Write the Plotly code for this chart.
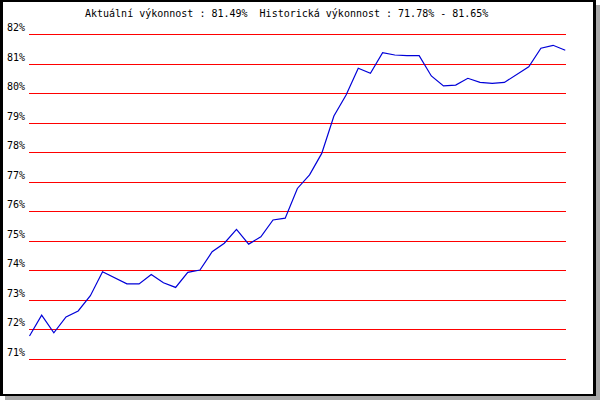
import plotly.graph_objects as go

# Data
values = [71.78, 72.49, 71.89, 72.43, 72.63, 73.15, 73.96, 73.76, 73.55, 73.55,
          73.87, 73.59, 73.43, 73.94, 74.02, 74.64, 74.93, 75.40, 74.90, 75.15,
          75.72, 75.78, 76.79, 77.25, 77.98, 79.25, 79.96, 80.87, 80.70, 81.40,
          81.32, 81.30, 81.30, 80.61, 80.27, 80.30, 80.53, 80.39, 80.36, 80.39,
          80.67, 80.92, 81.55, 81.65, 81.48]
x_index = list(range(len(values)))
tick_values = [71, 72, 73, 74, 75, 76, 77, 78, 79, 80, 81, 82]
tick_labels = [f"{v}%" for v in tick_values]
title_text = "Aktuální výkonnost : 81.49%  Historická výkonnost : 71.78% - 81.65%"

W, H = 600, 400
ML, MR, MT, MB = 29, 34, 20, 20
PW = W - ML - MR
PH = H - MT - MB


def px_x(px):
    return (px - ML) / PW


def px_y(py):
    return (H - MB - py) / PH


fig = go.Figure()
fig.add_trace(go.Scatter(x=x_index, y=values, mode="lines",
                         line=dict(color="#0000d8", width=1.2),
                         hoverinfo="skip", showlegend=False))

shapes = [
    dict(type="rect", xref="paper", yref="paper", layer="below",
         x0=px_x(5), x1=px_x(600), y0=px_y(400), y1=px_y(5),
         fillcolor="#a8a8a8", line=dict(width=0)),
    dict(type="rect", xref="paper", yref="paper", layer="below",
         x0=px_x(0), x1=px_x(596), y0=px_y(396), y1=px_y(0),
         fillcolor="#000000", line=dict(width=0)),
    dict(type="rect", xref="paper", yref="paper", layer="below",
         x0=px_x(3), x1=px_x(593), y0=px_y(394), y1=px_y(2),
         fillcolor="#ffffff", line=dict(width=0)),
]

annotations = []
for v, lab in zip(tick_values, tick_labels):
    annotations.append(dict(x=px_x(26.5), xref="paper", y=v, yref="y",
                            text=lab, showarrow=False, xanchor="right",
                            yanchor="middle", yshift=7,
                            font=dict(family="DejaVu Sans Mono", size=10,
                                      color="black")))
annotations.append(dict(x=px_x(83), xref="paper", y=px_y(13.5), yref="paper",
                        text=title_text, showarrow=False, xanchor="left",
                        yanchor="middle",
                        font=dict(family="DejaVu Sans Mono", size=10,
                                  color="black")))

fig.update_layout(
    width=W, height=H,
    margin=dict(l=ML, r=MR, t=MT, b=MB, pad=0),
    paper_bgcolor="white", plot_bgcolor="rgba(0,0,0,0)",
    shapes=shapes, annotations=annotations,
    xaxis=dict(range=[-0.04, 44.06], showgrid=False, zeroline=False,
               showticklabels=False, ticks="", showline=False, fixedrange=True),
    yaxis=dict(range=[70.287, 82.509], tickvals=tick_values,
               showgrid=True, gridcolor="#ff0000", gridwidth=1,
               zeroline=False, showticklabels=False, ticks="",
               showline=False, fixedrange=True),
    showlegend=False,
)

fig.write_html("out.html", config={"displayModeBar": False},
               post_script="document.body.style.margin='0';"
                           "document.body.style.overflow='hidden';")
